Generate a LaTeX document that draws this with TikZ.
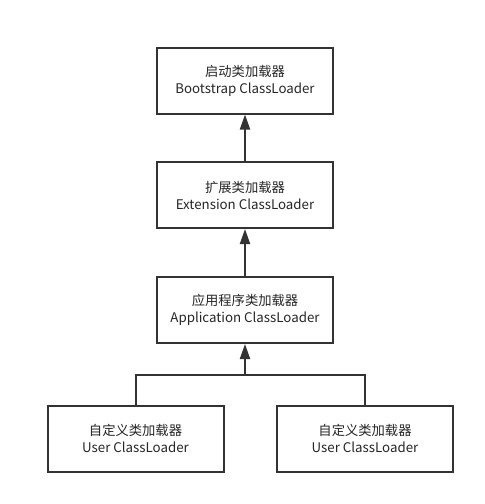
\documentclass[tikz,border=0pt]{standalone}
\usepackage{fontspec}
\setmainfont{Noto Sans CJK SC}
\usetikzlibrary{arrows.meta}
\definecolor{lc}{HTML}{333333}
\begin{document}
\begin{tikzpicture}[x=1pt,y=-1pt,
  box/.style={draw=lc,line width=2pt,minimum width=176pt,minimum height=66pt,
    align=center,inner sep=0pt,font=\fontsize{13.3}{17}\selectfont,text=black!85},
  conn/.style={draw=lc,line width=2pt},
  arr/.style={conn,-{Triangle[length=15pt,width=10pt]}}]
\useasboundingbox (0,0) rectangle (485,504);
\node[box] (boot) at (245,80.5) {启动类加载器\\Bootstrap ClassLoader};
\node[box] (ext) at (245,195) {扩展类加载器\\Extension ClassLoader};
\node[box] (app) at (245,310) {应用程序类加载器\\Application ClassLoader};
\node[box] (u1) at (135.5,438.5) {自定义类加载器\\User ClassLoader};
\node[box] (u2) at (365,438.5) {自定义类加载器\\User ClassLoader};
\coordinate (j) at (245,375);
\draw[arr] (ext.north) -- (boot.south);
\draw[arr] (app.north) -- (ext.south);
\draw[arr] (j) -- (app.south);
\draw[conn] (u1.north) |- (j) -| (u2.north);
\end{tikzpicture}
\end{document}
